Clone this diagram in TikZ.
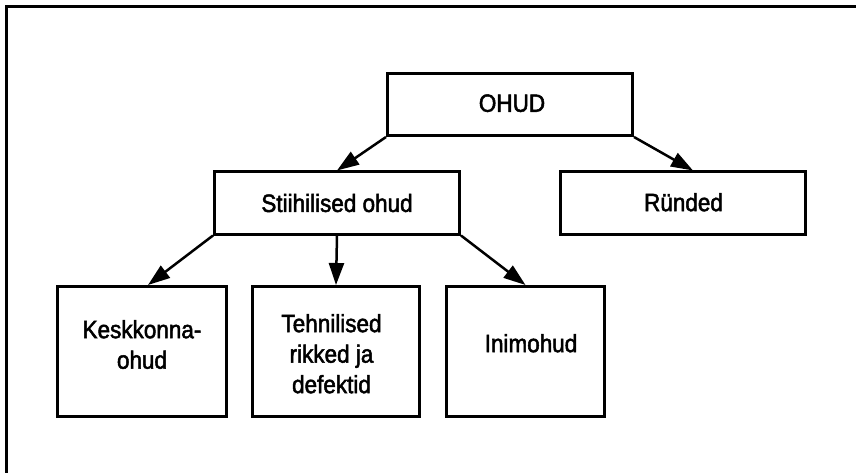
\documentclass[tikz,border=0pt]{standalone}
\usepackage{fontspec}
\setmainfont[FakeStretch=0.9,FakeBold=2]{Liberation Sans}
\usetikzlibrary{arrows.meta}
\begin{document}
\begin{tikzpicture}[x=1pt,y=-1pt,
  box/.style={draw,line width=3pt,inner sep=0pt},
  topbox/.style={box,minimum width=245pt,minimum height=62pt},
  leafbox/.style={box,minimum height=130pt},
  txt/.style={inner sep=0pt,align=center,
    font=\fontsize{25}{30.5}\selectfont},
  link/.style={line width=2.5pt,-{Triangle[length=22pt,width=15pt]}}]
  \useasboundingbox (0,0) rectangle (856,473);
  % open frame: only the top and left edges lie inside the page
  \draw[line width=3pt] (6.5,480) -- (6.5,6.5) -- (870,6.5);

  % boxes
  \node[topbox] (ohud) at (510,104.5) {};
  \node[topbox] (stii) at (337,203) {};
  \node[topbox] (runded) at (683,203) {};
  \node[leafbox,minimum width=169pt] (kesk) at (142,351.5) {};
  \node[leafbox,minimum width=167pt] (tehn) at (336,351.5) {};
  \node[leafbox,minimum width=158pt] (inim) at (525.5,351.5) {};

  % box captions
  \node[txt] (ohud-t) at ([shift={(2,-1.3)}]ohud.center) {OHUD};
  \node[txt] (stii-t) at (stii.center) {Stiihilised ohud};
  \node[txt] (runded-t) at ([shift={(0.5,-0.8)}]runded.center) {Ründed};
  \node[txt] (kesk-t) at ([shift={(0,-7)}]kesk.center) {Keskkonna-\\ohud};
  \node[txt] (tehn-t) at ([shift={(-4.5,2.2)}]tehn.center) {Tehnilised\\rikked ja\\defektid};
  \node[txt] (inim-t) at ([shift={(5.5,-8.3)}]inim.center) {Inimohud};

  % connectors
  \draw[link] (ohud.south west) -- (stii.north);
  \draw[link] (ohud.south east) -- ([xshift=10pt]runded.north);
  \draw[link] (stii.south west) -- ([xshift=6pt]kesk.north);
  \draw[link] (stii.south) -- (tehn.north);
  \draw[link] (stii.south east) -- (inim.north);
\end{tikzpicture}
\end{document}
